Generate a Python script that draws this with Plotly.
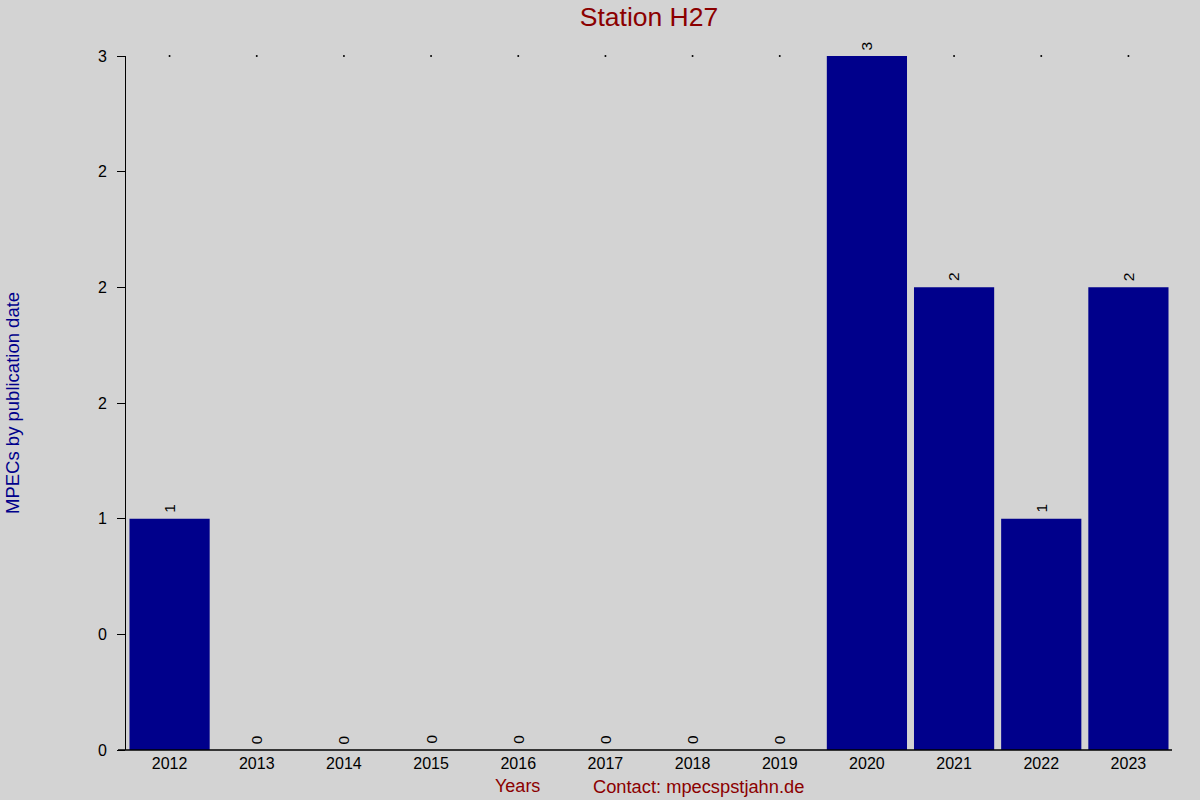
import plotly.graph_objects as go

# Data
years = ["2012", "2013", "2014", "2015", "2016", "2017", "2018", "2019",
         "2020", "2021", "2022", "2023"]
mpecs = [1, 0, 0, 0, 0, 0, 0, 0, 3, 2, 1, 2]
y_tickvals = [0, 0.5, 1, 1.5, 2, 2.5, 3]
y_ticktext = ["0", "0", "1", "2", "2", "2", "3"]

ymax = y_tickvals[-1]

fig = go.Figure()

fig.add_trace(go.Bar(
    x=years, y=mpecs,
    marker=dict(color="#00008B", line=dict(width=0)),
    showlegend=False,
))

# small dots along the top of the plot (hidden behind full-height bars)
fig.add_trace(go.Scatter(
    x=years, y=[ymax if v < ymax else None for v in mpecs],
    mode="markers", marker=dict(color="black", size=2),
    showlegend=False, hoverinfo="skip", cliponaxis=False,
))

# value labels above bars, rotated
annotations = []
for i, v in enumerate(mpecs):
    annotations.append(dict(
        x=i, y=v, xref="x", yref="y", text=str(v), textangle=-90,
        showarrow=False, xanchor="center", yanchor="bottom", yshift=4,
        font=dict(family="Liberation Sans, Arial", size=15.5, color="black"),
    ))

annotations += [
    dict(text="MPECs by publication date", xref="paper", yref="paper",
         x=-114 / 1046, y=0.5, textangle=-90, showarrow=False,
         xanchor="center", yanchor="middle",
         font=dict(size=18.5, color="#00008B")),
    dict(text="Years", xref="paper", yref="paper",
         x=(517 - 126) / 1046, y=-36 / 694, showarrow=False,
         xanchor="center", yanchor="middle",
         font=dict(size=18, color="#8B0000")),
    dict(text="Contact: mpecspstjahn.de", xref="paper", yref="paper",
         x=(698 - 126) / 1046, y=-36 / 694, showarrow=False,
         xanchor="center", yanchor="middle",
         font=dict(size=18.3, color="#8B0000")),
]

fig.update_layout(
    width=1200, height=800,
    paper_bgcolor="#D3D3D3", plot_bgcolor="#D3D3D3",
    margin=dict(l=126, r=28, t=56, b=50),
    bargap=0.08,
    font=dict(family="Liberation Sans, Arial", size=16, color="black"),
    title=dict(text="Station H27", x=(126 + 1172) / 2 / 1200, xanchor="center",
               y=1 - 17 / 800, yanchor="middle",
               font=dict(size=26.5, color="#8B0000")),
    xaxis=dict(type="category", range=[-0.5, 11.5], showline=False, ticks="",
               showgrid=False, zeroline=False, tickfont=dict(size=16),
               ticklabelstandoff=2),
    yaxis=dict(range=[0, 3], tickvals=y_tickvals, ticktext=y_ticktext,
               showline=True, linecolor="black", linewidth=1,
               ticks="outside", ticklen=8, tickcolor="black",
               showgrid=False, zeroline=False, tickfont=dict(size=16),
               ticklabelstandoff=7),
    shapes=[dict(type="line", xref="paper", yref="paper", x0=-8 / 1046, x1=1,
                 y0=0, y1=0, line=dict(color="black", width=1.5))],
    annotations=annotations,
)

fig.write_html("out.html", config={"displayModeBar": False},
               post_script="document.body.style.margin='0';"
                           "document.body.style.overflow='hidden';")
